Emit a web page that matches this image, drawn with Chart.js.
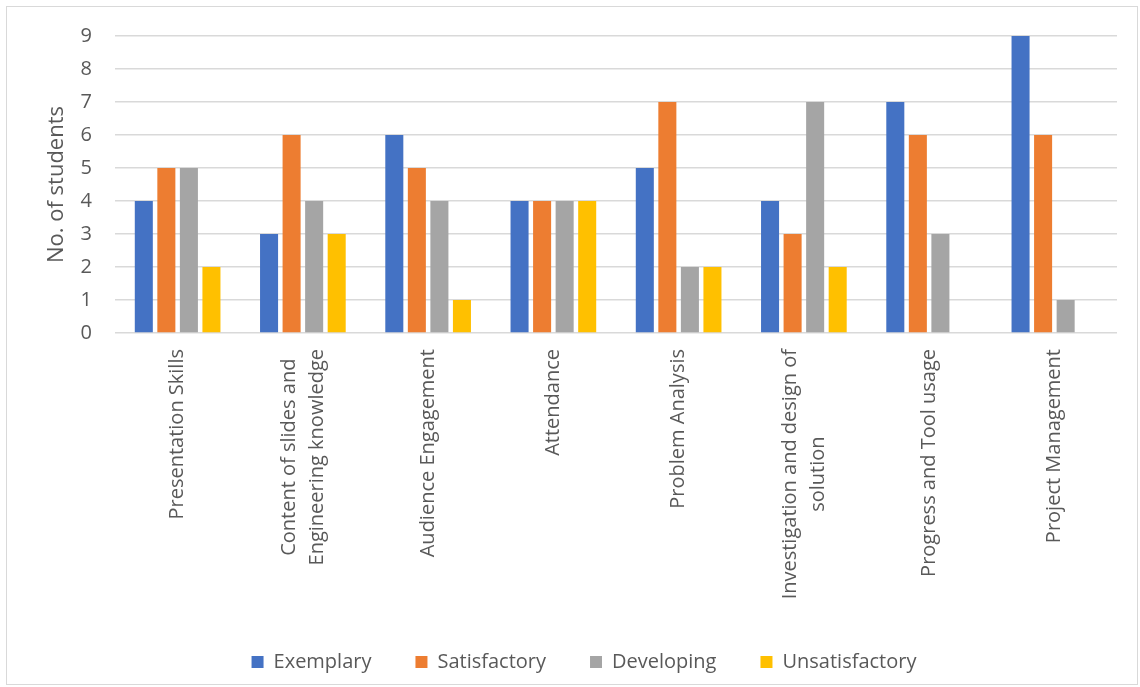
<!DOCTYPE html>
<html>
<head>
<meta charset="utf-8">
<script src="https://cdn.jsdelivr.net/npm/chart.js@4/dist/chart.umd.min.js"></script>
<style>
    body { margin: 0; background: #fff; }
    #frame {
        position: absolute; left: 6px; top: 6px;
        width: 1132px; height: 679px;
        box-sizing: border-box; border: 1px solid #d9d9d9;
    }
    canvas { display: block; }
</style>
</head>
<body>
<div id="frame"><canvas id="chart" width="1130" height="677"></canvas></div>
<script>
const categories = [
    'Presentation Skills',
    ['Content of slides and', 'Engineering knowledge'],
    'Audience Engagement',
    'Attendance',
    'Problem Analysis',
    ['Investigation and design of', 'solution'],
    'Progress and Tool usage',
    'Project Management'
];
const exemplary      = [4, 3, 6, 4, 5, 4, 7, 9];
const satisfactory   = [5, 6, 5, 4, 7, 3, 6, 6];
const developing     = [5, 4, 4, 4, 2, 7, 3, 1];
const unsatisfactory = [2, 3, 1, 4, 2, 2, 0, 0];
const yTicks = [0, 1, 2, 3, 4, 5, 6, 7, 8, 9];

const textColor = '#595959';
const fontFamily = '"Open Sans", sans-serif';
Chart.defaults.font.family = fontFamily;
Chart.defaults.font.size = 20;
Chart.defaults.color = textColor;

function series(label, data, color) {
    return { label, data, backgroundColor: color, borderWidth: 0, barPercentage: 0.8, categoryPercentage: 0.72 };
}

// rotated category names, each line centred on the others (Chart.js right-aligns rotated ticks)
const categoryLabels = {
    id: 'categoryLabels',
    afterDraw(chart) {
        const scale = chart.scales.x;
        const ctx = chart.ctx;
        const lineHeight = 28;
        ctx.save();
        ctx.font = '20px ' + fontFamily;
        ctx.fillStyle = textColor;
        ctx.textAlign = 'center';
        ctx.textBaseline = 'middle';
        scale.ticks.forEach((tick, i) => {
            const lines = [].concat(chart.data.labels[i]);
            const longest = Math.max(...lines.map(l => ctx.measureText(l).width));
            const x = scale.getPixelForTick(i);
            const y = scale.top + 16 + longest / 2;
            lines.forEach((line, j) => {
                ctx.save();
                ctx.translate(x + (j - (lines.length - 1) / 2) * lineHeight, y);
                ctx.rotate(-Math.PI / 2);
                ctx.fillText(line, 0, 0);
                ctx.restore();
            });
        });
        ctx.restore();
    }
};

new Chart(document.getElementById('chart'), {
    type: 'bar',
    data: {
        labels: categories,
        datasets: [
            series('Exemplary', exemplary, '#4472C4'),
            series('Satisfactory', satisfactory, '#ED7D31'),
            series('Developing', developing, '#A5A5A5'),
            series('Unsatisfactory', unsatisfactory, '#FFC000')
        ]
    },
    options: {
        responsive: false,
        animation: false,
        layout: { padding: { top: 29, right: 20, left: 44, bottom: 2 } },
        plugins: {
            tooltip: { enabled: false },
            legend: {
                position: 'bottom',
                labels: { boxWidth: 12, boxHeight: 12, padding: 44, color: textColor, font: { size: 20 } }
            }
        },
        scales: {
            x: {
                grid: { display: false },
                border: { display: false },
                ticks: { display: false },
                afterFit: (scale) => { scale.height = 275; }
            },
            y: {
                min: 0,
                max: 9,
                afterBuildTicks: (scale) => { scale.ticks = yTicks.map(v => ({ value: v })); },
                grid: { color: '#d9d9d9', lineWidth: 1.5, drawTicks: true, tickLength: 20, tickColor: 'rgba(0,0,0,0)' },
                border: { display: false },
                ticks: { padding: 3, font: { size: 20 } },
                title: { display: true, text: 'No. of students', font: { size: 22 }, padding: { top: -7, bottom: 0 } },
                afterFit: (scale) => { scale.width = 64; }
            }
        }
    },
    plugins: [categoryLabels]
});
</script>
</body>
</html>
